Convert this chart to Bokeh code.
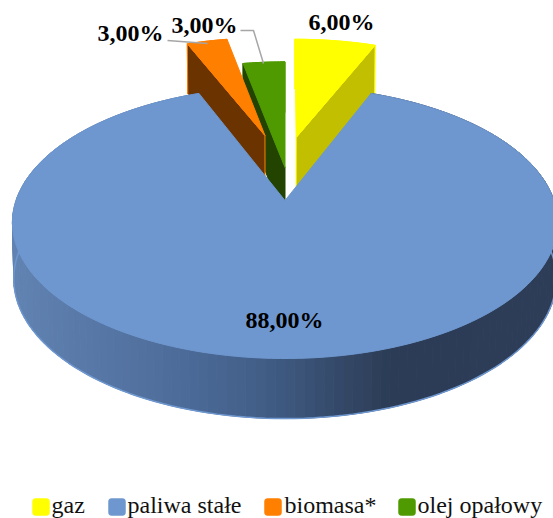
import numpy as np
from bokeh.plotting import figure
from bokeh.embed import file_html
from bokeh.resources import INLINE
from bokeh.core.properties import value

categories = ["gaz", "paliwa stałe", "biomasa*", "olej opałowy"]
shares = [6.0, 88.0, 3.0, 3.0]
top_colors = ["#FFFF00", "#6E97CF", "#FF7F00", "#4F9A00"]
wall_colors = ["#C2BE00", "#45608A", "#6B3300", "#234400"]
edge_colors = ["#FFFF00", "#6E97CF", "#FF7F00", "#4F9A00"]
explode = [(0.045, 0.516), (0.0, 0.0), (-0.081, 0.533), (0.0, 0.26)]
labels = ["6,00%", "88,00%", "3,00%", "3,00%"]
label_x = [341, 284, 130, 204]
label_y = [21, 319, 32, 24]
legend_swatch_x = [32, 108, 264, 398]
legend_text_x = [51, 127, 284, 417]

# view geometry of the tilted disc
CX, CY, R, YA, C = 284.5, 200.0, 269.0, 100.1, 0.1618
H, C2, SHRINK = 55.5, 0.0755, 0.995

def project(u, v, bottom=False):
    u, v = np.asarray(u, float), np.asarray(v, float)
    d = 1 + C * v
    x = R * u / d
    y = CY - YA * v
    y = y / d
    if bottom:
        return CX + x * SHRINK, y + H / (1 + C2 * v)
    return CX + x, y

def lerp_color(stops, t):
    xs = [s[0] for s in stops]
    cols = np.array([[int(s[1][i:i + 2], 16) for i in (1, 3, 5)] for s in stops], float)
    rgb = [np.interp(t, xs, cols[:, k]) for k in range(3)]
    return "#%02x%02x%02x" % tuple(int(round(c)) for c in rgb)

p = figure(width=553, height=518, x_range=(0, 553), y_range=(518, 0),
           output_backend="svg", toolbar_location=None, min_border=0,
           outline_line_color=None, background_fill_color="white")
p.axis.visible = False
p.grid.visible = False

edges = np.concatenate([[0], np.cumsum(shares)]) / sum(shares) * 2 * np.pi
spans = [(edges[i], edges[i + 1]) for i in range(len(shares))]

def slice_top(i):
    a0, a1 = spans[i]
    du, dv = explode[i]
    th = np.linspace(a0, a1, 200 if i == 1 else 16)
    xs, ys = project(np.r_[du, du + np.sin(th)], np.r_[dv, dv + np.cos(th)])
    return xs, ys

def cut_face(i, a):
    du, dv = explode[i]
    u = np.array([du, du + np.sin(a)])
    v = np.array([dv, dv + np.cos(a)])
    xt, yt = project(u, v)
    xb, yb = project(u, v, bottom=True)
    return np.r_[xt, xb[::-1]], np.r_[yt, yb[::-1]]

def outer_wall(i):
    a0, a1 = spans[i]
    du, dv = explode[i]
    th = np.linspace(a0, a1, 16)
    u, v = du + np.sin(th), dv + np.cos(th)
    xt, yt = project(u, v)
    xb, yb = project(u, v, bottom=True)
    return np.r_[xt, xb[::-1]], np.r_[yt, yb[::-1]]

# back slices: olej, biomasa, gaz, each wall then top
for i, face_angle in ((3, spans[3][0]), (2, spans[2][0]), (0, spans[0][1])):
    xs, ys = outer_wall(i)
    p.patch(xs, ys, fill_color=top_colors[i], line_color=top_colors[i], line_width=1)
    xs, ys = cut_face(i, face_angle)
    p.patch(xs, ys, fill_color=wall_colors[i], line_color=edge_colors[i] if i != 3 else wall_colors[i], line_width=1)
    xs, ys = slice_top(i)
    p.patch(xs, ys, fill_color=top_colors[i], line_color=top_colors[i], line_width=1)

# large slice: shaded wall strips
stops = [(0.0, "#2D3D58"), (0.30, "#2C3C56"), (0.55, "#43608A"), (0.72, "#4F6E9C"), (1.0, "#6183B2")]
a0, a1 = spans[1]
th = np.linspace(a0, a1, 181)
sx, sy, sc = [], [], []
for t0, t1 in zip(th[:-1], th[1:]):
    u = np.sin([t0, t1]); v = np.cos([t0, t1])
    xt, yt = project(u, v)
    xb, yb = project(u, v, bottom=True)
    sx.append(np.r_[xt, xb[::-1]])
    sy.append(np.r_[yt, yb[::-1]])
    sc.append(lerp_color(stops, (CX + R - xt[0]) / (2 * R)))
p.patches(sx, sy, fill_color=sc, line_color=sc, line_width=1)
xb, yb = project(np.sin(th), np.cos(th), bottom=True)
p.line(xb, yb, line_color="#6E97CF", line_width=1.5)

xs, ys = slice_top(1)
p.patch(xs, ys, fill_color=top_colors[1], line_color=top_colors[1], line_width=1)

# leader lines
p.line([167, 207], [40, 43], line_color="#A6A6A6", line_width=1.5)
p.line([240, 253, 263], [30, 30, 63], line_color="#A6A6A6", line_width=1.5)

# data labels
p.text(label_x, label_y, text=labels, text_font=value("Liberation Serif"),
       text_font_style="bold", text_font_size="24px", text_align="center",
       text_baseline="middle", text_color="#000000")

# legend
p.quad(left=legend_swatch_x, right=[x + 17 for x in legend_swatch_x],
       top=[498] * 4, bottom=[515] * 4, fill_color=top_colors, line_color=top_colors,
       line_width=0.5, border_radius=3)
p.text(legend_text_x, [504.5] * 4, text=categories, text_font=value("Liberation Serif"),
       text_font_size="24px", text_align="left", text_baseline="middle",
       text_color="#111111")

open("out.html", "w").write(file_html(p, INLINE))
